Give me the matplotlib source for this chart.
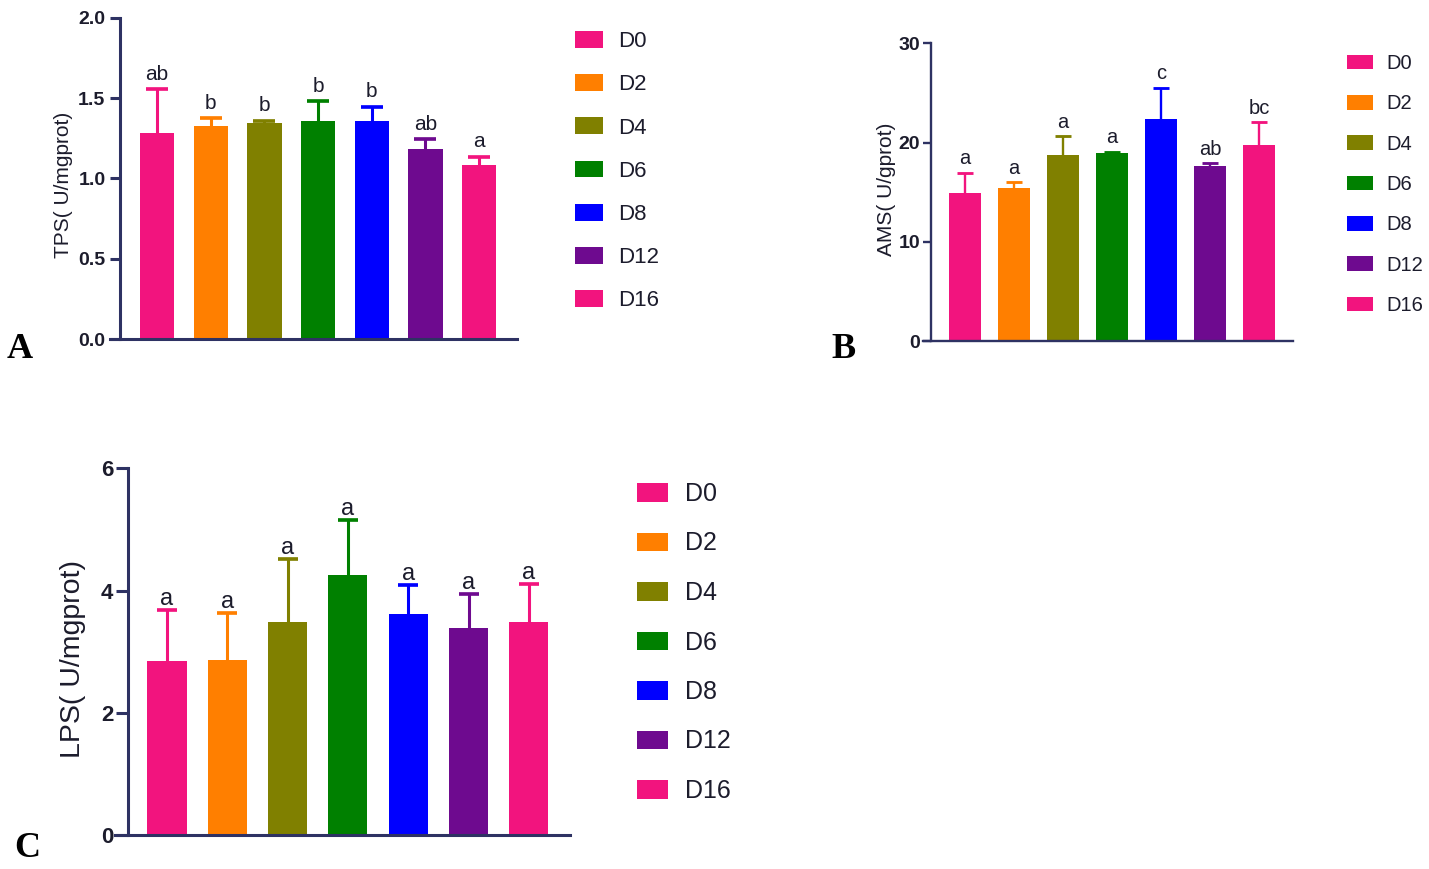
import matplotlib
matplotlib.use("Agg")
import matplotlib.pyplot as plt
from matplotlib.patches import Patch

# Data
groups = ["D0", "D2", "D4", "D6", "D8", "D12", "D16"]
colors = ["#F2147E", "#FF7F00", "#808000", "#008000", "#0000FF", "#6E0A8F", "#F2147E"]

tps_mean = [1.285, 1.327, 1.344, 1.36, 1.36, 1.182, 1.086]
tps_err = [0.27, 0.048, 0.016, 0.12, 0.087, 0.062, 0.05]
tps_letters = ["ab", "b", "b", "b", "b", "ab", "a"]

ams_mean = [14.95, 15.45, 18.75, 18.92, 22.38, 17.67, 19.76]
ams_err = [2.02, 0.55, 1.91, 0.16, 3.16, 0.24, 2.29]
ams_letters = ["a", "a", "a", "a", "c", "ab", "bc"]

lps_mean = [2.84, 2.86, 3.48, 4.255, 3.617, 3.39, 3.48]
lps_err = [0.84, 0.77, 1.03, 0.90, 0.473, 0.55, 0.62]
lps_letters = ["a", "a", "a", "a", "a", "a", "a"]

W, H = 1429, 869
SPINE = "#2E3263"
TXT = "#1C1C2C"
plt.rcParams["font.family"] = ["Liberation Sans", "DejaVu Sans"]

fig = plt.figure(figsize=(W / 100, H / 100), dpi=100)


def add_panel(x0, x1, ytop, ybot, xlim, spine_x):
    ax = fig.add_axes([x0 / W, 1 - ybot / H, (x1 - x0) / W, (ybot - ytop) / H])
    ax.set_xlim(*xlim)
    ax.spines["top"].set_visible(False)
    ax.spines["right"].set_visible(False)
    ax.spines["left"].set_position(("data", spine_x))
    ax.set_xticks([])
    return ax


def draw(ax, means, errs, letters, ylim, yticks, ticklabels, lw, tlen, tsize,
         tpad, capsize, lsize, loff, width):
    x = list(range(len(groups)))
    for i in x:
        ax.bar(i, means[i], width=width, color=colors[i], zorder=2)
        eb = ax.errorbar(i, means[i], yerr=[[0], [errs[i]]], color=colors[i],
                         elinewidth=lw, capsize=capsize, capthick=lw * 1.2,
                         zorder=1)
        # upper error only: hide the cap sitting on the bar top
        for cap in eb[1]:
            if abs(cap.get_ydata()[0] - means[i]) < 1e-9:
                cap.set_visible(False)
        ax.annotate(letters[i], (i, means[i] + errs[i]), xytext=(0, loff),
                    textcoords="offset points", ha="center", va="bottom",
                    fontsize=lsize, color=TXT)
    ax.set_ylim(*ylim)
    ax.set_yticks(yticks)
    ax.set_yticklabels(ticklabels, fontsize=tsize, fontweight="bold", color=TXT)
    ax.tick_params(axis="y", length=tlen, width=lw, color=SPINE, pad=tpad)
    for s in ("left", "bottom"):
        ax.spines[s].set_linewidth(lw)
        ax.spines[s].set_color(SPINE)


def legend(ax, x, y, fs, hl, hh, ls, tp):
    handles = [Patch(facecolor=c, edgecolor="none") for c in colors]
    leg = ax.legend(handles, groups, loc="upper left",
                    bbox_to_anchor=(x / W, 1 - y / H),
                    bbox_transform=fig.transFigure, frameon=False,
                    fontsize=fs, handlelength=hl, handleheight=hh,
                    labelspacing=ls, handletextpad=tp, borderpad=0,
                    borderaxespad=0)
    for t in leg.get_texts():
        t.set_color(TXT)


# Panel A
axA = add_panel(110, 517, 18, 339, (-0.875, 6.704), -0.689)
draw(axA, tps_mean, tps_err, tps_letters, (0, 2.0), [0, 0.5, 1.0, 1.5, 2.0],
     ["0.0", "0.5", "1.0", "1.5", "2.0"], 2.2, 7, 14, 3.5, 8, 15, 4, 0.64)
legend(axA, 575, 31, 16, 1.26, 0.77, 1.0, 0.68)
fig.text(64 / W, 1 - 185 / H, "TPS( U/mgprot)", rotation=90, ha="center",
         va="center", fontsize=15, color=TXT)
fig.text(20 / W, 1 - 358 / H, "A", ha="center", va="baseline", fontsize=26,
         fontweight="bold", family="Liberation Serif")

# Panel B
axB = add_panel(923, 1293, 43.3, 341, (-0.857, 6.694), -0.694)
draw(axB, ams_mean, ams_err, ams_letters, (0, 30), [0, 10, 20, 30],
     ["0", "10", "20", "30"], 1.7, 6, 14, 2, 6, 14.5, 3, 0.67)
legend(axB, 1347, 54, 14.5, 1.29, 0.75, 1.06, 0.65)
fig.text(887 / W, 1 - 189 / H, "AMS( U/gprot)", rotation=90, ha="center",
         va="center", fontsize=15, color=TXT)
fig.text(844 / W, 1 - 358 / H, "B", ha="center", va="baseline", fontsize=26,
         fontweight="bold", family="Liberation Serif")

# Panel C
axC = add_panel(115, 570, 468.3, 835, (-0.862, 6.683), -0.647)
draw(axC, lps_mean, lps_err, lps_letters, (0, 6), [0, 2, 4, 6],
     ["0", "2", "4", "6"], 2.2, 9, 16, 1.5, 7.5, 17, 0, 0.65)
legend(axC, 637, 482, 18, 1.24, 0.76, 1.02, 0.68)
fig.text(73 / W, 1 - 659 / H, "LPS( U/mgprot)", rotation=90, ha="center",
         va="center", fontsize=20.5, color=TXT)
fig.text(27 / W, 1 - 857 / H, "C", ha="center", va="baseline", fontsize=26,
         fontweight="bold", family="Liberation Serif")

fig.savefig("out.png", dpi=100)
